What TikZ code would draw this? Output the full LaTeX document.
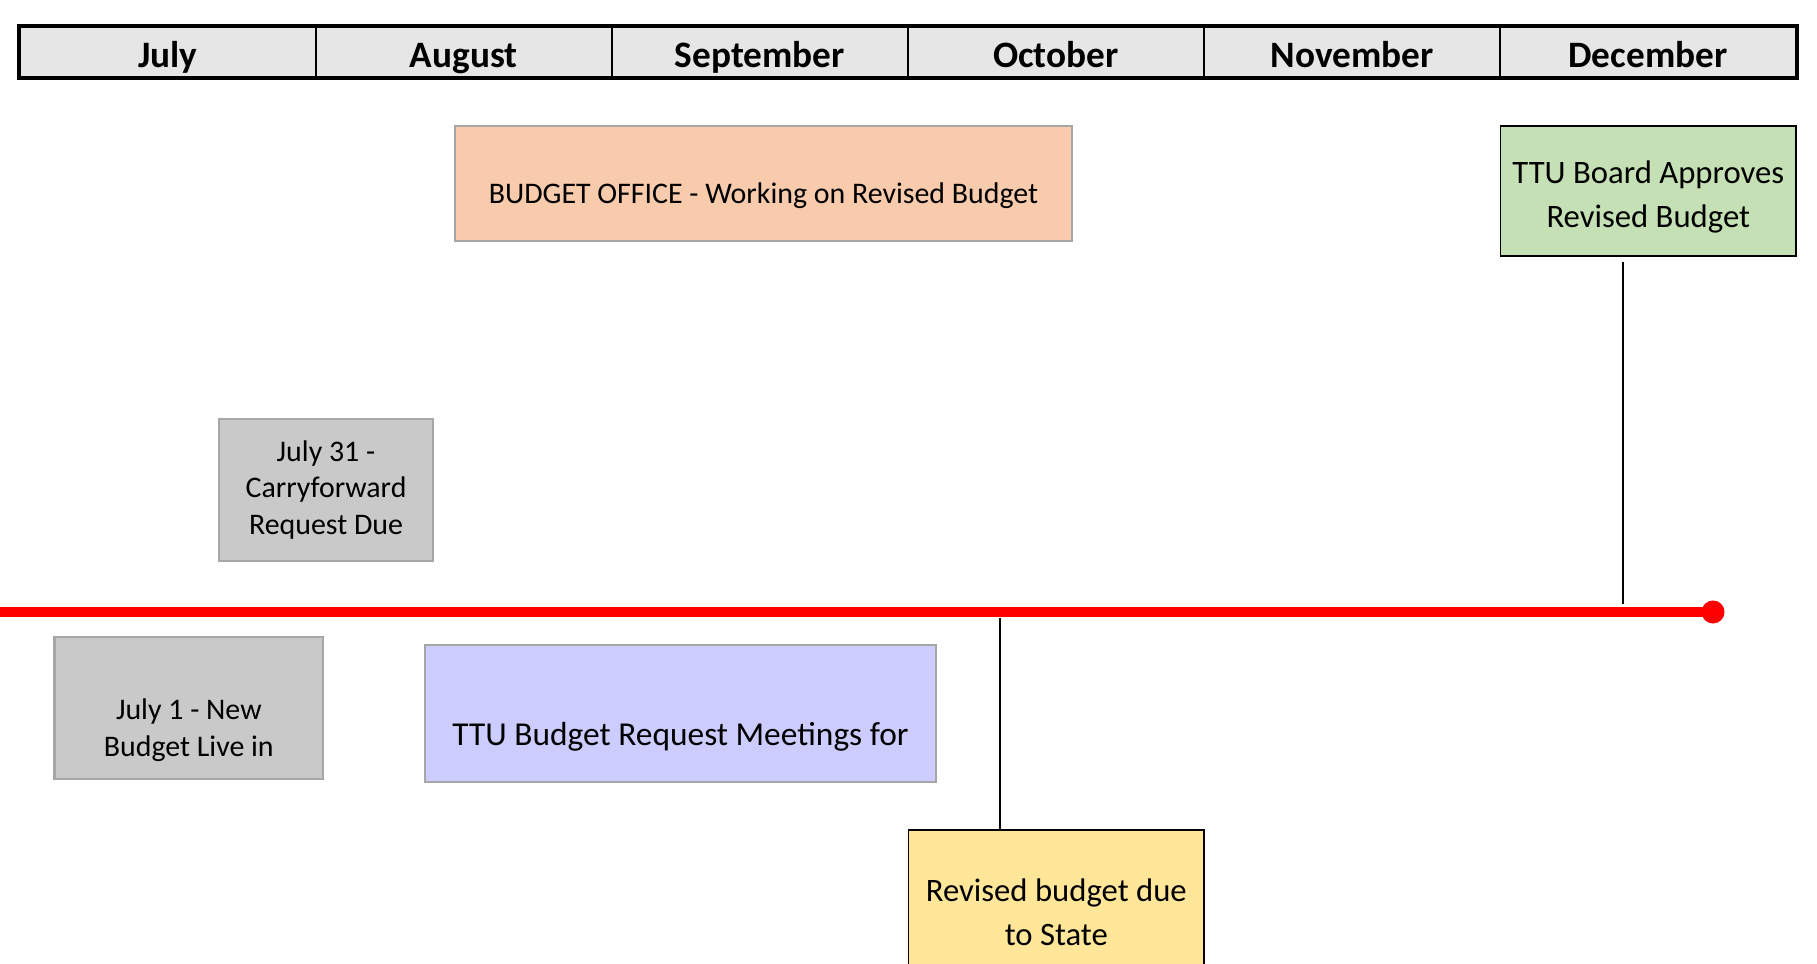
\documentclass[tikz,border=0pt]{standalone}
\usepackage{fontspec}
\setmainfont{Carlito}
\definecolor{hdrgray}{HTML}{E7E6E6}
\definecolor{edgegray}{HTML}{A6A6A6}
\definecolor{officeorange}{HTML}{F8CBAD}
\definecolor{boardgreen}{HTML}{C5E0B4}
\definecolor{duegray}{HTML}{C9C9C9}
\definecolor{meetblue}{HTML}{CCCCFF}
\definecolor{stateyellow}{HTML}{FFE699}
\tikzset{
	month/.style={draw=black, line width=0.6pt, fill=hdrgray, minimum width=2.96cm, minimum height=0.51cm, inner sep=0pt, text height=1em, text depth=0.12em, font=\bfseries\fontsize{10.6}{12}\selectfont},
	evbox/.style={draw=edgegray, line width=0.7pt, inner sep=0pt, align=center},
	keybox/.style={draw=black, line width=0.4pt, inner sep=0pt, align=center},
	small/.style={font=\fontsize{8.5}{10.4}\selectfont},
	big/.style={font=\fontsize{9.3}{12.4}\selectfont},
	tick/.style={draw=black, line width=0.45pt},
	redline/.style={draw=red, line width=2.7pt}
}
\begin{document}
\begin{tikzpicture}[x=0.01cm, y=-0.01cm]
	\pgfmathsetmacro{\colW}{296.05};
	\clip (0,0) rectangle (1817,964);
%
	% month header
	\foreach \m [count=\i from 0] in {July,August,September,October,November,December}
		\node[month] (m\i) at ({19.7+\colW/2+\colW*\i},52) {\m};
	\draw[line width=1pt] (m0.north west) rectangle (m5.south east);
%
	% timeline
	\coordinate (tlstart) at (0,612);
	\coordinate (tlend) at (1713,612);
	\draw[redline] (tlstart) -- (tlend);
	\fill[red] (tlend) circle (0.115cm);
%
	% above the line
	\node[evbox, fill=officeorange, minimum width=6.17cm, minimum height=1.15cm] (office) at (763.5,183.5) {};
	\node[small] (officetxt) at ([yshift=-0.12cm]office.center) {BUDGET OFFICE - Working on Revised Budget};
	\node[keybox, fill=boardgreen, minimum width=2.954cm, minimum height=1.30cm] (board) at (1648.3,191) {};
	\node[big, align=center] (boardtxt) at ([yshift=-0.06cm]board.center) {TTU Board Approves\\Revised Budget};
	\node[evbox, small, fill=duegray, minimum width=2.14cm, minimum height=1.42cm] (carry) at (326,490) {July 31 -\\Carryforward\\Request Due};
%
	% below the line
	\node[evbox, fill=duegray, minimum width=2.685cm, minimum height=1.42cm] (july1) at (188.8,708) {};
	\node[small, align=center] (july1txt) at ([yshift=-0.22cm]july1.center) {July 1 - New\\Budget Live in};
	\node[evbox, fill=meetblue, minimum width=5.11cm, minimum height=1.37cm] (meet) at (680.5,713.5) {};
	\node[font=\fontsize{9.5}{12}\selectfont] (meettxt) at ([yshift=-0.23cm]meet.center) {TTU Budget Request Meetings for};
	\node[keybox, big, fill=stateyellow, minimum width=2.955cm, minimum height=1.65cm] (state) at (1056.3,912.5) {Revised budget due\\to State};
%
	% ticks
	\coordinate (boardtick) at (1623,604);
	\coordinate (statetick) at (1000,618);
	\draw[tick, shorten <=1.4pt] (boardtick |- board.south) -- (boardtick);
	\draw[tick] (statetick) -- (statetick |- state.north);
\end{tikzpicture}
\end{document}
